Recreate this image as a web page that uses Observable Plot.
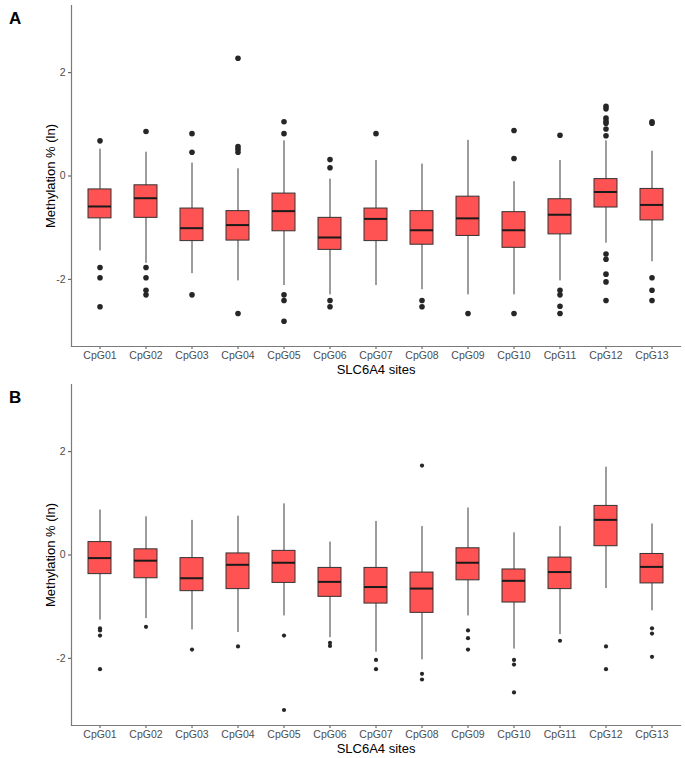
<!DOCTYPE html>
<html><head><meta charset="utf-8">
<script src="https://cdn.jsdelivr.net/npm/d3@7"></script>
<script src="https://cdn.jsdelivr.net/npm/@observablehq/plot@0.6"></script>
<style>
body{margin:0;background:#fff;font-family:"Liberation Sans",Arial,sans-serif;}
.panel{position:relative;width:685px;height:379px;}
.tag{position:absolute;left:9px;top:10px;font-weight:bold;font-size:17px;line-height:1;color:#000;}
svg{display:block;}
</style></head><body><div id="root"></div>
<script>
const sites = ["CpG01","CpG02","CpG03","CpG04","CpG05","CpG06","CpG07","CpG08","CpG09","CpG10","CpG11","CpG12","CpG13"];
const yTicks = [-2, 0, 2];

// Panel A
const aLow  = [-1.45, -1.69, -1.89, -2.03, -2.12, -2.30, -2.12, -2.20, -2.30, -2.30, -2.03, -1.30, -1.66];
const aQ1   = [-0.82, -0.81, -1.26, -1.25, -1.07, -1.43, -1.26, -1.33, -1.16, -1.39, -1.13, -0.61, -0.86];
const aMed  = [-0.59, -0.43, -1.01, -0.95, -0.68, -1.19, -0.83, -1.05, -0.82, -1.05, -0.75, -0.31, -0.56];
const aQ3   = [-0.26, -0.18, -0.63, -0.68, -0.34, -0.81, -0.63, -0.68, -0.40, -0.70, -0.45, -0.06, -0.25];
const aHigh = [0.52, 0.46, 0.25, 0.14, 0.68, -0.06, 0.30, 0.23, 0.69, -0.11, 0.30, 0.68, 0.48];
const aOut = [
  [0.68, -1.77, -1.97, -2.53],
  [0.86, -1.77, -1.97, -2.21, -2.30],
  [0.82, 0.46, -2.30],
  [2.28, 0.57, 0.52, 0.46, -2.66],
  [1.05, 0.82, -2.30, -2.41, -2.81],
  [0.32, 0.16, -2.41, -2.53],
  [0.82],
  [-2.41, -2.53],
  [-2.66],
  [0.88, 0.34, -2.66],
  [0.79, -2.21, -2.30, -2.52, -2.66],
  [1.35, 1.30, 1.12, 1.06, 1.02, 0.91, 0.78, -1.51, -1.61, -1.90, -2.05, -2.41],
  [1.05, 1.02, -1.97, -2.21, -2.41]
];

// Panel B
const bLow  = [-1.26, -1.23, -1.45, -1.50, -1.18, -1.60, -1.88, -2.03, -1.18, -1.82, -1.54, -0.65, -1.08];
const bQ1   = [-0.37, -0.45, -0.70, -0.66, -0.54, -0.81, -0.94, -1.12, -0.49, -0.92, -0.66, 0.17, -0.55];
const bMed  = [-0.06, -0.11, -0.45, -0.19, -0.15, -0.52, -0.62, -0.65, -0.15, -0.50, -0.33, 0.68, -0.23];
const bQ3   = [0.25, 0.11, -0.06, 0.03, 0.08, -0.25, -0.25, -0.34, 0.13, -0.28, -0.05, 0.95, 0.02];
const bHigh = [0.87, 0.74, 0.67, 0.75, 0.99, 0.25, 0.65, 0.55, 0.91, 0.43, 0.55, 1.70, 0.60];
const bOut = [
  [-1.42, -1.46, -1.56, -2.21],
  [-1.39],
  [-1.83],
  [-1.77],
  [-1.56, -3.0],
  [-1.70, -1.76],
  [-2.03, -2.21],
  [1.73, -2.30, -2.41],
  [-1.46, -1.61, -1.83],
  [-2.03, -2.12, -2.66],
  [-1.66],
  [-1.77, -2.21],
  [-1.42, -1.52, -1.97]
];

function makePanel(tag, low, q1, med, q3, high, out, dotR) {
  const stats = sites.map((s, i) => ({site: s, low: low[i], q1: q1[i], med: med[i], q3: q3[i], high: high[i]}));
  const outs = sites.flatMap((s, i) => out[i].map(v => ({site: s, v})));
  const chart = Plot.plot({
    width: 685, height: 379,
    marginLeft: 71, marginRight: 5, marginTop: 5, marginBottom: 33,
    style: {fontFamily: "'Liberation Sans', Arial, sans-serif", fontSize: "10.5px", background: "white", color: "#4d4d4d"},
    x: {domain: sites, paddingInner: 0.5, paddingOuter: 0.35, label: null},
    y: {domain: [-3.3, 3.3], label: null},
    marks: [
      Plot.axisX({tickSize: 3, tickPadding: 2, color: "#4d4d4d", fontSize: 10.5, label: null}),
      Plot.axisY({ticks: yTicks, tickFormat: d => String(d), tickSize: 3, tickPadding: 3, color: "#4d4d4d", fontSize: 10.5, label: null}),
      Plot.frame({anchor: "left", stroke: "#7a7a7a", strokeWidth: 1.2}),
      Plot.frame({anchor: "bottom", stroke: "#7a7a7a", strokeWidth: 1.2}),
      Plot.ruleX(stats, {x: "site", y1: "low", y2: "high", stroke: "#3a3a3a", strokeWidth: 1}),
      Plot.barY(stats, {x: "site", y1: "q1", y2: "q3", fill: "#ff5252", stroke: "#333333", strokeWidth: 1}),
      Plot.tickY(stats, {x: "site", y: "med", stroke: "#1a1a1a", strokeWidth: 2}),
      Plot.dot(outs, {x: "site", y: "v", r: dotR, fill: "#262626", stroke: "none"}),
      Plot.text(["SLC6A4 sites"], {frameAnchor: "bottom", textAnchor: "middle", lineAnchor: "middle", dy: 23, fontSize: 13, fill: "#000"}),
      Plot.text(["Methylation % (ln)"], {frameAnchor: "left", textAnchor: "middle", lineAnchor: "middle", rotate: -90, dx: -21, fontSize: 13, fill: "#000"})
    ]
  });
  const div = document.createElement("div");
  div.className = "panel";
  div.appendChild(chart);
  const t = document.createElement("div");
  t.className = "tag";
  t.textContent = tag;
  div.appendChild(t);
  return div;
}

const root = document.getElementById("root");
root.appendChild(makePanel("A", aLow, aQ1, aMed, aQ3, aHigh, aOut, 2.8));
root.appendChild(makePanel("B", bLow, bQ1, bMed, bQ3, bHigh, bOut, 2.1));
</script>
</body></html>
